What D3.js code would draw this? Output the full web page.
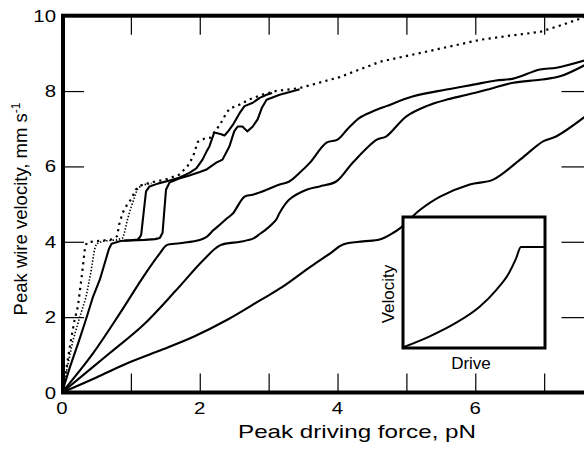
<!DOCTYPE html>
<html>
<head>
<meta charset="utf-8">
<script src="https://cdn.jsdelivr.net/npm/d3@7"></script>
<style>
  body { margin: 0; background: #fff; }
  text { font-family: "Liberation Sans", Arial, Helvetica, sans-serif; fill: #000; }
</style>
</head>
<body>
<script>
// values: [force pN, velocity mm/s]
var dotSparse = [[0,0],[0.06,0.6],[0.13,1.39],[0.18,1.9],[0.23,2.28],[0.28,2.98],[0.33,3.78],[0.36,3.98],[0.5,4.02],[0.7,4.05],[0.8,4.15],[0.83,4.46],[0.88,4.77],[0.95,5.0],[1.0,5.12],[1.07,5.38],[1.12,5.48],[1.3,5.58],[1.5,5.65],[1.7,5.78],[1.82,6.0],[1.9,6.25],[1.97,6.65],[2.07,6.74],[2.15,6.76],[2.29,7.1],[2.36,7.33],[2.43,7.53],[2.58,7.64],[2.72,7.78],[2.9,7.9],[3.1,8.0],[3.45,8.08],[4.03,8.37],[4.62,8.78],[5.3,9.05],[6.07,9.36],[6.5,9.47],[6.94,9.57],[7.25,9.75],[7.6,9.97]];
var dotDense = [[0,0],[0.08,0.7],[0.16,1.39],[0.25,1.95],[0.35,2.54],[0.42,3.2],[0.47,3.78],[0.5,3.95],[0.6,4.02],[0.8,4.05],[0.88,4.1],[0.9,4.19],[0.95,4.59],[1.0,4.9],[1.05,5.17],[1.09,5.38],[1.15,5.5],[1.3,5.55]];
var solidA = [[0,0],[0.12,0.7],[0.25,1.39],[0.35,1.95],[0.45,2.54],[0.55,3.0],[0.62,3.43],[0.68,3.8],[0.72,3.95],[0.85,4.02],[1.0,4.04],[1.1,4.06],[1.13,4.12],[1.15,4.19],[1.19,4.85],[1.22,5.34],[1.27,5.47],[1.4,5.55],[1.55,5.62],[1.7,5.7],[1.85,5.83],[1.95,5.95],[2.04,6.18],[2.1,6.4],[2.14,6.53],[2.21,6.9],[2.3,6.86],[2.36,6.82],[2.42,6.95],[2.48,7.1],[2.58,7.42],[2.65,7.6],[2.77,7.69],[2.87,7.82],[2.97,7.9],[3.05,7.95]];
var solidB = [[0.9,4.03],[1.2,4.05],[1.35,4.07],[1.42,4.1],[1.46,4.24],[1.48,4.7],[1.51,5.38],[1.56,5.57],[1.7,5.68],[1.85,5.76],[2.0,5.85],[2.09,5.91],[2.24,6.1],[2.33,6.18],[2.43,6.53],[2.5,6.93],[2.55,7.06],[2.62,7.06],[2.69,6.93],[2.77,7.06],[2.84,7.25],[2.9,7.55],[2.97,7.77],[3.16,7.9],[3.4,8.02],[3.45,8.05]];
var solidC = [[0,0],[0.45,1.04],[0.84,2.1],[1.18,3.07],[1.42,3.69],[1.52,3.91],[1.71,3.96],[2.0,4.05],[2.1,4.13],[2.2,4.31],[2.29,4.45],[2.38,4.6],[2.48,4.75],[2.65,5.2],[2.77,5.25],[2.97,5.38],[3.16,5.52],[3.3,5.6],[3.45,5.83],[3.6,6.1],[3.84,6.63],[4.0,6.71],[4.15,7.0],[4.32,7.29],[4.5,7.45],[4.71,7.6],[5.1,7.86],[5.58,8.04],[5.97,8.17],[6.3,8.28],[6.55,8.33],[6.94,8.57],[7.18,8.62],[7.6,8.82]];
var solidD = [[0,0],[0.69,1.04],[1.18,1.79],[1.66,2.72],[2.05,3.51],[2.3,3.91],[2.59,4.0],[2.78,4.09],[2.88,4.22],[2.95,4.31],[3.11,4.59],[3.16,4.77],[3.3,5.12],[3.55,5.38],[3.74,5.47],[3.98,5.6],[4.22,6.1],[4.57,6.71],[4.71,6.8],[5.0,7.33],[5.29,7.6],[5.6,7.78],[5.88,7.9],[6.2,8.05],[6.55,8.22],[6.94,8.3],[7.23,8.39],[7.6,8.7]];
var solidE = [[0,0],[0.5,0.4],[0.94,0.77],[1.4,1.1],[1.91,1.48],[2.4,1.93],[2.88,2.45],[3.2,2.8],[3.61,3.34],[3.9,3.7],[4.08,3.93],[4.37,4.01],[4.61,4.06],[4.81,4.24],[4.9,4.35],[5.2,4.85],[5.49,5.2],[5.92,5.52],[6.26,5.65],[6.65,6.18],[6.99,6.67],[7.18,6.8],[7.6,7.33]];

// inset: schematic drive vs velocity (arbitrary units 0..1)
var insetCurve = [[0,0],[0.18,0.08],[0.37,0.185],[0.54,0.31],[0.66,0.44],[0.75,0.57],[0.8,0.68],[0.835,0.77],[1,0.77]];

var xTickLabels = [0, 2, 4, 6];
var xTickMarks = [1, 2, 3, 4, 5, 6, 7];
var yTickLabels = [0, 2, 4, 6, 8, 10];
var yTickMarks = [2, 4, 6, 8];

var W = 584, H = 449;
var svg = d3.select("body").append("svg").attr("width", W).attr("height", H);

var x = d3.scaleLinear().domain([0, 7.6]).range([62, 62 + 7.6 * 68.88]);
var y = d3.scaleLinear().domain([0, 10]).range([392.5, 15.7]);

/* clip the traces to the frame */
svg.append("clipPath").attr("id", "plot")
  .append("rect").attr("x", x(0)).attr("y", y(10)).attr("width", x(7.6) - x(0)).attr("height", y(0) - y(10));

var line = d3.line().x(function(d) { return x(d[0]); }).y(function(d) { return y(d[1]); });
var smooth = d3.line().x(function(d) { return x(d[0]); }).y(function(d) { return y(d[1]); })
  .curve(d3.curveCatmullRom.alpha(0.5));

var g = svg.append("g").attr("clip-path", "url(#plot)");

[solidA, solidB].forEach(function(s) {
  g.append("path").datum(s).attr("d", line)
    .attr("fill", "none").attr("stroke", "#000").attr("stroke-width", 2.1)
    .attr("stroke-linejoin", "round");
});
[solidC, solidD, solidE].forEach(function(s) {
  g.append("path").datum(s).attr("d", smooth)
    .attr("fill", "none").attr("stroke", "#000").attr("stroke-width", 2.1)
    .attr("stroke-linejoin", "round");
});
g.append("path").datum(dotDense).attr("d", line)
  .attr("fill", "none").attr("stroke", "#000").attr("stroke-width", 1.6)
  .attr("stroke-dasharray", "1.4,1.8");
g.append("path").datum(dotSparse).attr("d", line)
  .attr("fill", "none").attr("stroke", "#000").attr("stroke-width", 2.2)
  .attr("stroke-dasharray", "2.2,4.3");

// ticks, all pointing inward
svg.append("g").attr("transform", "translate(0," + y(0) + ")")
  .call(d3.axisBottom(x).tickValues(xTickMarks).tickSize(-19).tickFormat(""));
svg.append("g").attr("transform", "translate(0," + y(10) + ")")
  .call(d3.axisTop(x).tickValues(xTickMarks).tickSize(-19).tickFormat(""));
svg.append("g").attr("transform", "translate(" + x(0) + ",0)")
  .call(d3.axisLeft(y).tickValues(yTickMarks).tickSize(-22).tickFormat(""));
svg.append("g").attr("transform", "translate(" + x(7.6) + ",0)")
  .call(d3.axisRight(y).tickValues(yTickMarks).tickSize(-24).tickFormat(""));
svg.selectAll(".domain").remove();
svg.selectAll(".tick line").attr("stroke", "#000").attr("stroke-width", 1.2);

// frame
svg.append("rect").attr("x", x(0) + 1).attr("y", y(10)).attr("width", x(7.6) - x(0)).attr("height", y(0) - y(10))
  .attr("fill", "none").attr("stroke", "#000").attr("stroke-width", 4);

// tick labels
svg.selectAll(".xl").data(xTickLabels).enter().append("text")
  .attr("transform", function(d) { return "translate(" + x(d) + ",414) scale(1.2,1)"; })
  .attr("text-anchor", "middle").attr("font-size", 17).text(function(d) { return d; });
svg.selectAll(".yl").data(yTickLabels).enter().append("text")
  .attr("transform", function(d) { return "translate(56," + (y(d) + 6) + ") scale(1.2,1)"; })
  .attr("text-anchor", "end").attr("font-size", 17).text(function(d) { return d; });

// axis titles
svg.append("text").attr("x", 238).attr("y", 438).attr("font-size", 19)
  .attr("textLength", 238).attr("lengthAdjust", "spacingAndGlyphs")
  .text("Peak driving force, pN");
var yt = svg.append("text").attr("transform", "translate(27,209) rotate(-90)")
  .attr("text-anchor", "middle").attr("font-size", 18.5);
yt.append("tspan").text("Peak wire velocity, mm s");
yt.append("tspan").attr("dy", -7).attr("font-size", 12).text("-1");

// inset
var ix = d3.scaleLinear().domain([0, 1]).range([404, 544]);
var iy = d3.scaleLinear().domain([0, 1]).range([347, 217]);
svg.append("rect").attr("x", 403).attr("y", 217).attr("width", 142).attr("height", 131)
  .attr("fill", "#fff").attr("stroke", "#000").attr("stroke-width", 3);
svg.append("path").datum(insetCurve)
  .attr("d", d3.line().x(function(d) { return ix(d[0]); }).y(function(d) { return iy(d[1]); }).curve(d3.curveMonotoneX))
  .attr("fill", "none").attr("stroke", "#000").attr("stroke-width", 2);
svg.append("text").attr("transform", "translate(394,294) rotate(-90)")
  .attr("text-anchor", "middle").attr("font-size", 17).text("Velocity");
svg.append("text").attr("x", 471).attr("y", 369).attr("text-anchor", "middle")
  .attr("font-size", 17).text("Drive");
</script>
</body>
</html>
